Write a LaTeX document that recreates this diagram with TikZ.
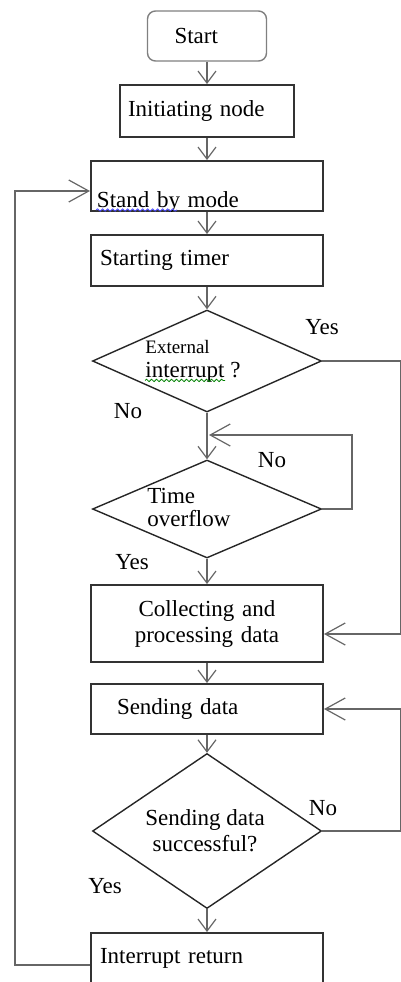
\documentclass[tikz,border=0pt]{standalone}
\usepackage{fontspec}
\setmainfont{Liberation Serif}
\usetikzlibrary{shapes.geometric,arrows.meta,decorations.pathmorphing}

\begin{document}
\begin{tikzpicture}[x=0.5pt,y=-0.5pt,
  font=\fontsize{11.5pt}{13pt}\selectfont,
  box/.style={draw=black!80,line width=1pt,rectangle,minimum width=116pt,inner ysep=0pt},
  decision/.style={draw=black!85,line width=0.7pt,diamond,minimum width=114.5pt,inner sep=0pt},
  flow/.style={draw=black!60,line width=0.6pt,-{Straight Barb[length=6pt,width=9pt]}},
  back/.style={draw=black!60,line width=0.6pt,-{Straight Barb[length=10pt,width=11pt]}},
  lbl/.style={inner sep=0pt},
  squiggle/.style={line width=0.4pt,decorate,decoration={snake,amplitude=0.6pt,segment length=2.5pt}}]
\useasboundingbox (0,0) rectangle (401,982);
\clip (0,0) rectangle (401,982);
% flow of the node program
\node[draw=black!50,line width=0.7pt,rounded corners=4pt,minimum height=25pt,inner xsep=13.5pt,text width=32.5pt,align=left] (start) at (207,36) {Start};
\node[box,minimum width=87pt,minimum height=26pt,inner xsep=4pt,text width=79pt,align=left] (init) at (207,111) {Initiating node};
\node[box,inner xsep=3pt,text width=110pt,align=left,text height=23pt,text depth=2pt] (standby) at (207,186) {Stand by mode};
\node[box,minimum height=25.5pt,inner xsep=4.5pt,text width=107pt,align=left] (timer) at (207,260.5) {Starting timer};
\node[decision,minimum height=51pt] (ext) at (207,361) {};
\node[lbl,anchor=west,align=left] (ext-txt) at (145,361) {{\fontsize{9.5pt}{11pt}\selectfont External}\\[-1pt]interrupt ?};
\node[decision,minimum height=49pt] (time) at (207,509) {};
\node[lbl,anchor=west,align=left] (time-txt) at (147,507) {Time\\[-1.5pt]overflow};
\node[box,minimum height=38.5pt,inner xsep=0pt,text width=116pt,align=center] (collect) at (207,623.5) {Collecting and\\processing data};
\node[box,minimum height=25pt,inner xsep=13pt,text width=90pt,align=left] (send) at (207,709) {Sending data};
\node[decision,minimum height=77.5pt] (ok) at (207,831) {};
\node[lbl,align=center] (ok-txt) at (205,831) {Sending data\\successful?};
\node[box,anchor=north,inner xsep=4.5pt,text width=107pt,align=left,text height=15pt,text depth=17pt] (intret) at (207,932) {Interrupt return};

\node[lbl] (yes1) at (322,327) {Yes};
\node[lbl] (no1) at (128,411) {No};
\node[lbl] (no2) at (272,460) {No};
\node[lbl] (yes2) at (132,562) {Yes};
\node[lbl] (no3) at (323,808) {No};
\node[lbl] (yes3) at (105,886) {Yes};

\coordinate (join1) at (209,435);
\coordinate (loopR) at (352,435);
\coordinate (railA) at (401,634);
\coordinate (railB) at (401,709);
\coordinate (railL) at (15,191);

\draw[flow] (start) -- (init);
\draw[flow] (init) -- (standby);
\draw[flow] (standby) -- (timer);
\draw[flow] (timer) -- (ext);
\draw[flow] (ext) -- (time);
\draw[flow] (time) -- (collect);
\draw[flow] (collect) -- (send);
\draw[flow] (send) -- (ok);
\draw[flow] (ok) -- (intret);
\draw[back] (time.east) -| (loopR) -- (join1);
\draw[back] (ext.east) -| (railA) -- (railA -| collect.east);
\draw[back] (ok.east) -| (railB) -- (railB -| send.east);
\draw[back] (intret.west) -| (railL) -- (railL -| standby.west);

\draw[squiggle,blue!70] ([xshift=3pt,yshift=-1.5pt]standby.base west) -- ++(81,0);
\draw[squiggle,green!50!black] ([yshift=1pt]ext-txt.south west) -- ++(80,0);
\end{tikzpicture}
\end{document}
